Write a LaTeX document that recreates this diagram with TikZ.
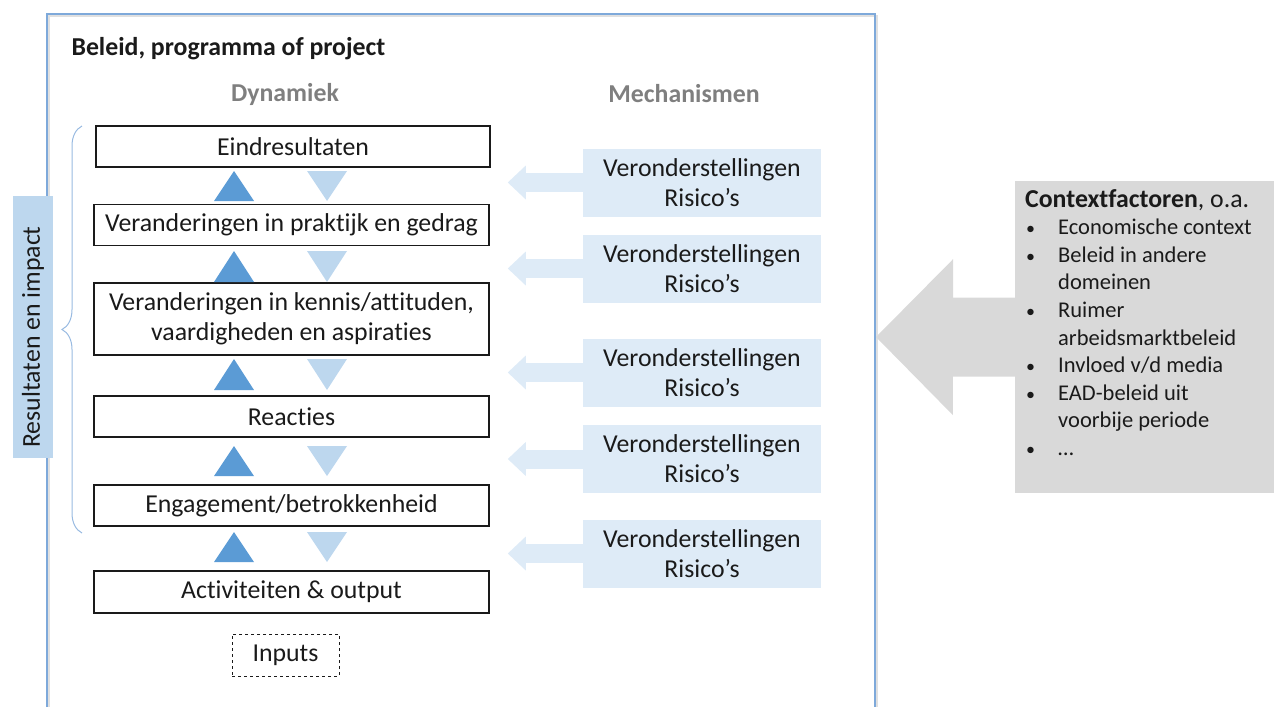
\documentclass[tikz,border=0pt]{standalone}
\usepackage{fontspec}
\setmainfont{Carlito}[Ligatures=NoCommon]
\usetikzlibrary{arrows.meta,calc,decorations.pathreplacing}

\definecolor{framecol}{HTML}{7EA9DA}
\definecolor{darktri}{HTML}{5B9BD5}
\definecolor{lighttri}{HTML}{BDD7EE}
\definecolor{mechfill}{HTML}{DEEBF7}
\definecolor{labelfill}{HTML}{BDD7EE}
\definecolor{ctxgray}{HTML}{D9D9D9}
\definecolor{headgray}{HTML}{7F7F7F}
\definecolor{txt}{HTML}{1A1A1A}

\tikzset{
  boxfont/.style={font=\fontsize{25.8}{30}\selectfont, text=txt},
  stage/.style={boxfont, draw=txt, line width=1.1pt, fill=white,
    minimum width=395pt, minimum height=41pt, inner sep=0pt, align=center},
  inputbox/.style={boxfont, draw=txt, line width=1pt, dashed,
    minimum width=107pt, minimum height=42pt, inner sep=0pt},
  mech/.style={boxfont, fill=mechfill, minimum width=238pt,
    minimum height=68pt, inner sep=0pt, align=center},
  mecharrow/.style={draw=mechfill, line width=19pt,
    -{Triangle[length=18pt,width=34pt,line width=0pt]}},
  ctxarrow/.style={draw=ctxgray, line width=79pt,
    -{Triangle[length=77pt,width=156pt,line width=0pt]}},
  colhead/.style={font=\bfseries\fontsize{25.8}{30}\selectfont, text=headgray},
  uptri/.style={fill=darktri},
  downtri/.style={fill=lighttri},
}
\newcommand{\ctxitem}{\hspace*{1pt}\makebox[32pt][l]{\fontsize{18}{18}\selectfont•}}
\newcommand{\ctxcont}{\hspace*{33pt}}

\begin{document}
\begin{tikzpicture}[x=1pt,y=-1pt]
\useasboundingbox (0,0) rectangle (1274,707);

% outer frame of the policy / programme
\draw[black!12, line width=2pt] (49,707) -- (49,16) -- (877,16) -- (877,707);
\draw[framecol, line width=1.6pt] (47,707) -- (47,14) -- (875,14) -- (875,707);

\node[anchor=west, font=\bfseries\fontsize{25.8}{30}\selectfont, text=txt] (title) at (68,48.5) {Beleid, programma of project};
\node[colhead] (dyn) at (285,94) {Dynamiek};
\node[colhead] (mechhead) at (684,94) {Mechanismen};

% stages of the dynamics
\node[stage, minimum width=394pt] (s1) at (293,146.5) {Eindresultaten};
\node[stage] (s2) at (291.5,225) {Veranderingen in praktijk en gedrag};
\node[stage, minimum height=72pt] (s3) at (291.5,319) {Veranderingen in kennis/attituden,\\vaardigheden en aspiraties};
\node[stage] (s4) at (291.5,416.5) {Reacties};
\node[stage] (s5) at (291.5,505.5) {Engagement/betrokkenheid};
\node[stage, minimum height=42pt] (s6) at (291.5,592) {Activiteiten \& output};
\node[inputbox] (inp) at (285.5,655) {Inputs};

% upward and downward triangles between the stages
\foreach \t/\b in {171/201, 251/282, 359/390, 446/476, 532/562}{
  \fill[uptri] (214,\b) -- (254,\b) -- (234,\t) -- cycle;
  \fill[downtri] (307,\t) -- (347,\t) -- (327,\b) -- cycle;
}

% mechanisms
\foreach \n/\y in {1/182.5, 2/268.5, 3/372.5, 4/459, 5/553.5}{
  \node[mech] (m\n) at (702,\y) {Veronderstellingen\\Risico’s};
  \coordinate (t\n) at ($(m\n.west)+(-75,0)$);
  \draw[mecharrow] (m\n.west) -- (t\n);
}

% results and impact bracket
\draw[framecol!80, line width=1pt, decorate,
  decoration={brace, amplitude=20pt, aspect=0.5}] (82,533) -- (82,126);
\node[fill=labelfill, minimum width=262pt, minimum height=40pt, inner sep=0pt,
  rotate=90, boxfont] (res) at (33,327) {Resultaten en impact\hspace*{20pt}};

% context factors
\node[fill=ctxgray, anchor=north west, minimum width=259pt, minimum height=312pt, inner sep=0pt] (ctx) at (1015,181) {};
\coordinate (ctxtip) at (876,337);
\draw[ctxarrow] (ctx.west) -- (ctxtip);
\node[anchor=north west, align=left, inner sep=0pt, text=txt,
  font=\fontsize{22.5}{27.6}\selectfont] (ctxtext) at (1025,189)
  {{\fontsize{25.8}{27.6}\selectfont\textbf{Contextfactoren}, o.a.}\\
   \ctxitem Economische context\\
   \ctxitem Beleid in andere\\
   \ctxcont domeinen\\
   \ctxitem Ruimer\\
   \ctxcont arbeidsmarktbeleid\\
   \ctxitem Invloed v/d media\\
   \ctxitem EAD-beleid uit\\
   \ctxcont voorbije periode\\
   \ctxitem …};
\end{tikzpicture}
\end{document}
